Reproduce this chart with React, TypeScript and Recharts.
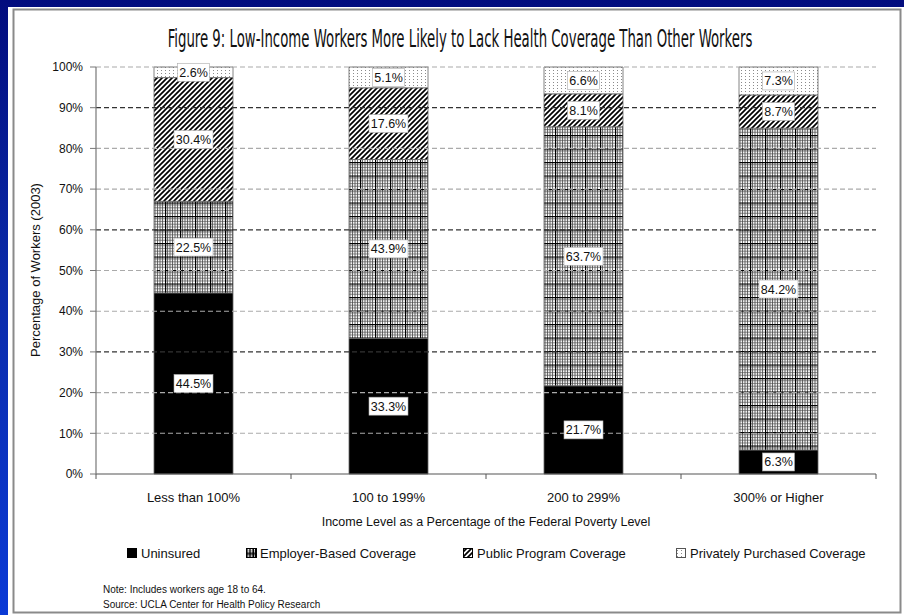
import React from 'react'
import { BarChart, Bar, XAxis, YAxis, ReferenceLine, LabelList } from 'recharts'

const categories = ['Less than 100%', '100 to 199%', '200 to 299%', '300% or Higher']
const uninsured = [44.5, 33.3, 21.7, 6.3]
const employerBased = [22.5, 43.9, 63.7, 84.2]
const publicProgram = [30.4, 17.6, 8.1, 8.7]
const privatelyPurchased = [2.6, 5.1, 6.6, 7.3]

const yTicks = [0, 0.1, 0.2, 0.3, 0.4, 0.5, 0.6, 0.7, 0.8, 0.9, 1]
const darkGridLines = [0.3, 0.6, 0.9]

const seriesNames = ['Uninsured', 'Employer-Based Coverage', 'Public Program Coverage', 'Privately Purchased Coverage']

const data = categories.map((name, i) => ({
  name,
  uninsured: uninsured[i],
  employer: employerBased[i],
  publicProg: publicProgram[i],
  privateCov: privatelyPurchased[i],
}))

const FONT = "'Liberation Sans', Arial, sans-serif"

const ValueLabel = (props: any) => {
  const { x, y, width, height, value } = props
  if (value == null) return null
  const cx = x + width / 2
  const cy = y + height / 2
  const text = `${Number(value).toFixed(1)}%`
  const w = text.length * 7 + 4
  return (
    <g>
      <rect x={cx - w / 2} y={cy - 9} width={w} height={18} fill="#fff" stroke="#aaa" strokeWidth={0.6} />
      <text x={cx} y={cy + 4.5} textAnchor="middle" fontSize={12.5} fontFamily={FONT} fill="#111">
        {text}
      </text>
    </g>
  )
}

const CategoryTick = (props: any) => {
  const { x, y, payload, index } = props
  const half = payload?.offset ?? 97.5
  return (
    <g>
      <line x1={x - half} x2={x - half} y1={y - 8} y2={y - 3} stroke="#555" strokeWidth={1} />
      {index === categories.length - 1 && (
        <line x1={x + half} x2={x + half} y1={y - 8} y2={y - 3} stroke="#555" strokeWidth={1} />
      )}
      <text x={x} y={y + 20} textAnchor="middle" fontSize={13} fontFamily={FONT} fill="#111">
        {payload.value}
      </text>
    </g>
  )
}

function LegendIcon({ kind, x, y }: { kind: number; x: number; y: number }) {
  if (kind === 0) return <rect x={x} y={y} width={10} height={10} fill="#000" />
  if (kind === 1)
    return (
      <g>
        <rect x={x + 0.5} y={y + 0.5} width={10} height={9} fill="url(#pEmployer)" stroke="#000" strokeWidth={1} />
        <line x1={x} x2={x + 11} y1={y + 5} y2={y + 5} stroke="#000" />
        <line x1={x + 4} x2={x + 4} y1={y} y2={y + 10} stroke="#000" />
        <line x1={x + 7.5} x2={x + 7.5} y1={y} y2={y + 10} stroke="#000" />
      </g>
    )
  if (kind === 2)
    return <rect x={x + 0.5} y={y + 0.5} width={9} height={9} fill="url(#pPublic)" stroke="#000" strokeWidth={1} />
  return <rect x={x + 0.5} y={y + 0.5} width={9} height={9} fill="url(#pPrivate)" stroke="#555" strokeWidth={1} />
}

const legendX = [127, 246, 463, 676]

export default function App() {
  return (
    <div
      style={{
        position: 'absolute',
        left: 0,
        top: 0,
        width: 904,
        height: 615,
        overflow: 'hidden',
        background: 'linear-gradient(180deg, #020c7e 0%, #0a2aa8 45%, #0a3ad6 100%)',
      }}
    >
      <svg width={0} height={0} style={{ position: 'absolute' }}>
        <defs>
          <pattern id="pEmployer" patternUnits="userSpaceOnUse" width={15} height={13.5}>
            <rect width={15} height={13.5} fill="#fff" />
            <path
              d="M2.5,0V13.5M5,0V13.5M7.5,0V13.5M10,0V13.5M12.5,0V13.5M0,2.7H15M0,5.4H15M0,8.1H15M0,10.8H15"
              stroke="#4a4a4a"
              strokeWidth={0.8}
            />
            <path d="M0.5,0V13.5M0,0.5H15" stroke="#000" strokeWidth={1.3} />
          </pattern>
          <pattern id="pPublic" patternUnits="userSpaceOnUse" width={5} height={5}>
            <rect width={5} height={5} fill="#fff" />
            <path d="M0,5L5,0M-1,1L1,-1M4,6L6,4" stroke="#000" strokeWidth={1.7} />
          </pattern>
          <pattern id="pPrivate" patternUnits="userSpaceOnUse" width={4} height={3}>
            <rect width={4} height={3} fill="#fff" />
            <rect x={1} y={1} width={1} height={1} fill="#8a8a8a" />
          </pattern>
        </defs>
      </svg>

      <div style={{ position: 'absolute', left: 8, top: 7, width: 896, height: 608, background: '#fff' }} />

      <div style={{ position: 'absolute', left: 0, top: 0 }}>
        <BarChart
          width={904}
          height={615}
          data={data}
          stackOffset="expand"
          barSize={79}
          margin={{ top: 67, right: 28, bottom: 111, left: 36 }}
        >
          {yTicks.slice(1).map((t) => (
            <ReferenceLine
              key={t}
              y={t}
              stroke={darkGridLines.includes(t) ? '#333' : '#aaa'}
              strokeWidth={darkGridLines.includes(t) ? 1.3 : 1.1}
              strokeDasharray="5 3"
            />
          ))}
          <XAxis
            dataKey="name"
            axisLine={{ stroke: '#555', strokeWidth: 1.2 }}
            tickLine={false}
            tick={<CategoryTick />}
            height={30}
            interval={0}
          />
          <YAxis
            width={60}
            domain={[0, 1]}
            ticks={yTicks}
            tickFormatter={(v: number) => `${Math.round(v * 100)}%`}
            axisLine={{ stroke: '#777', strokeWidth: 1.2 }}
            tickLine={{ stroke: '#777' }}
            tickSize={6}
            tickMargin={7}
            tick={{ fontSize: 12, fontFamily: FONT, fill: '#111' }}
          />
          <Bar dataKey="uninsured" stackId="a" fill="#000" stroke="#666" strokeWidth={0.8} isAnimationActive={false}>
            <LabelList dataKey="uninsured" content={<ValueLabel />} />
          </Bar>
          <Bar dataKey="employer" stackId="a" fill="url(#pEmployer)" stroke="#666" strokeWidth={0.8} isAnimationActive={false}>
            <LabelList dataKey="employer" content={<ValueLabel />} />
          </Bar>
          <Bar dataKey="publicProg" stackId="a" fill="url(#pPublic)" stroke="#666" strokeWidth={0.8} isAnimationActive={false}>
            <LabelList dataKey="publicProg" content={<ValueLabel />} />
          </Bar>
          <Bar dataKey="privateCov" stackId="a" fill="url(#pPrivate)" stroke="#666" strokeWidth={0.8} isAnimationActive={false}>
            <LabelList dataKey="privateCov" content={<ValueLabel />} />
          </Bar>
        </BarChart>
      </div>

      <svg
        width={904}
        height={615}
        style={{ position: 'absolute', left: 0, top: 0, pointerEvents: 'none' }}
        fontFamily={FONT}
      >
        <rect x={13.5} y={9.5} width={887} height={603} fill="none" stroke="#8a8a8a" strokeWidth={2} />
        <g transform="translate(460 47) scale(0.8 1.3)">
          <text
            x={0}
            y={0}
            textAnchor="middle"
            fontSize={18.5}
            fontFamily="'Liberation Sans Narrow', 'DejaVu Sans Condensed', sans-serif"
            fill="#111"
          >
            Figure 9: Low-Income Workers More Likely to Lack Health Coverage Than Other Workers
          </text>
        </g>
        <text x={40} y={270} transform="rotate(-90 40 270)" textAnchor="middle" fontSize={13} fill="#111">
          Percentage of Workers (2003)
        </text>
        <text x={486} y={526} textAnchor="middle" fontSize={12.5} fill="#111">
          Income Level as a Percentage of the Federal Poverty Level
        </text>
        {seriesNames.map((name, i) => (
          <g key={name}>
            <LegendIcon kind={i} x={legendX[i]} y={548} />
            <text x={legendX[i] + 14} y={558} fontSize={13} fill="#111">
              {name}
            </text>
          </g>
        ))}
        <text x={103} y={593} fontSize={10} fill="#111">
          Note: Includes workers age 18 to 64.
        </text>
        <text x={103} y={608} fontSize={10} fill="#111">
          Source: UCLA Center for Health Policy Research
        </text>
      </svg>
    </div>
  )
}
